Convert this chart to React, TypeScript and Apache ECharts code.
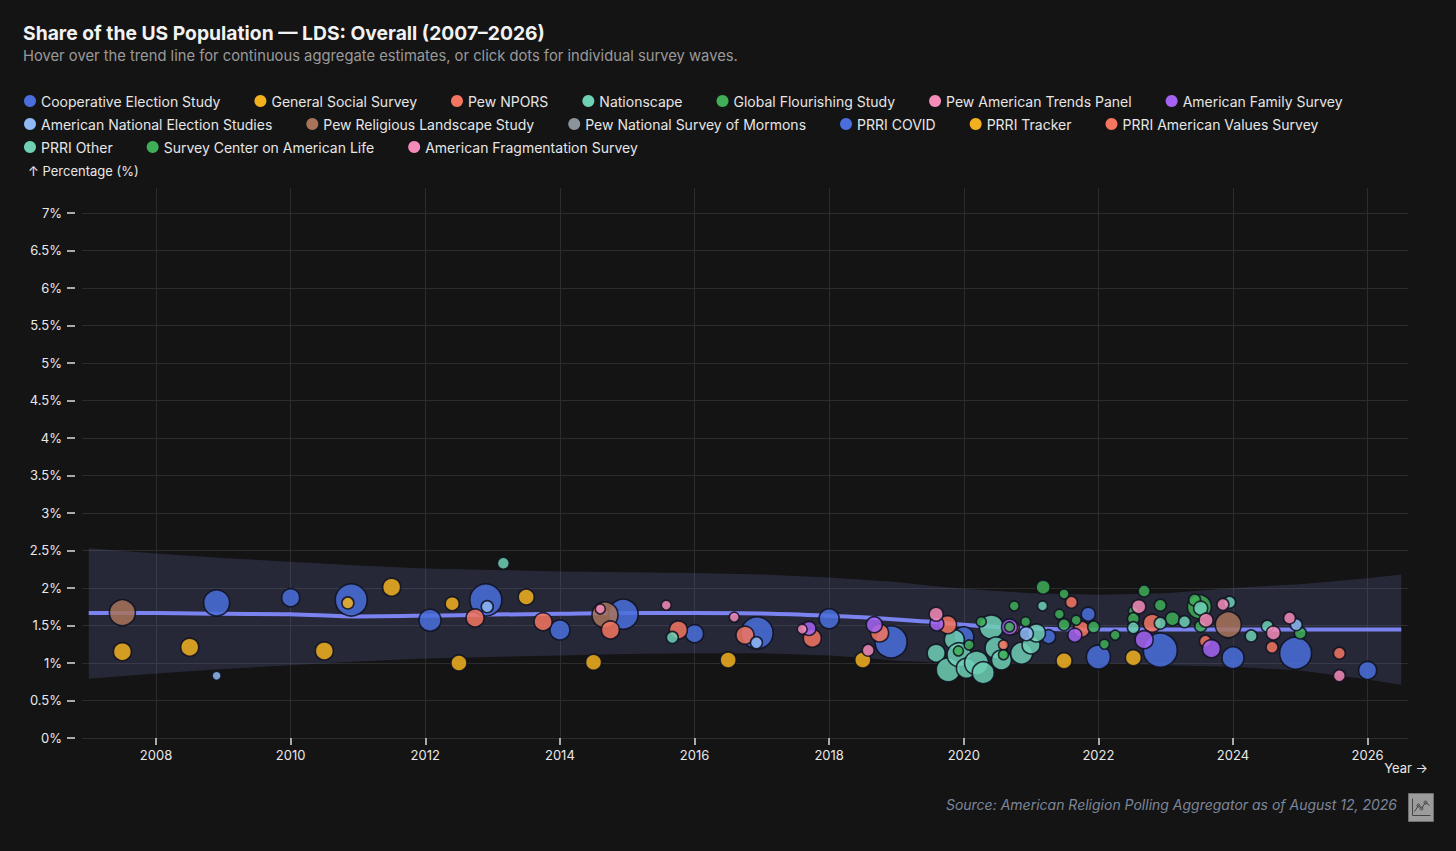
import React, { useEffect, useRef } from "react";
import * as echarts from "echarts";

// trend line + confidence band
const TREND_YEARS = [
  2007, 2008, 2009, 2010, 2011, 2012, 2013, 2014, 2015, 2016, 2017, 2018,
  2018.5, 2019, 2019.5, 2020, 2020.5, 2021, 2022, 2023, 2024, 2025, 2026,
  2026.5,
];
const TREND = [
  1.665, 1.665, 1.655, 1.65, 1.62, 1.63, 1.645, 1.655, 1.665, 1.665, 1.66,
  1.63, 1.61, 1.58, 1.55, 1.51, 1.48, 1.46, 1.445, 1.445, 1.445, 1.445, 1.445,
  1.445,
];
const BAND_HIGH = [
  2.53, 2.46, 2.4, 2.35, 2.3, 2.26, 2.24, 2.22, 2.21, 2.2, 2.18, 2.14, 2.11,
  2.08, 2.03, 1.99, 1.96, 1.93, 1.91, 1.93, 2.0, 2.05, 2.13, 2.18,
];
const BAND_LOW = [
  0.79, 0.86, 0.92, 0.97, 1.02, 1.06, 1.08, 1.1, 1.12, 1.13, 1.13, 1.1, 1.07,
  1.03, 1.01, 1.0, 1.0, 1.0, 1.0, 0.97, 0.95, 0.9, 0.78, 0.71,
];

// survey waves: [year, share %, weight]
const CES = [
  [2008.9, 1.8, 26], [2010.0, 1.87, 18], [2010.9, 1.84, 32], [2012.07, 1.57, 22],
  [2012.9, 1.84, 32], [2014.0, 1.44, 20], [2014.94, 1.65, 30], [2016.0, 1.39, 18],
  [2016.93, 1.4, 32], [2018.0, 1.59, 20], [2018.92, 1.28, 32], [2020.0, 1.35, 20],
  [2022.0, 1.08, 24], [2022.92, 1.17, 34], [2024.0, 1.07, 22], [2024.93, 1.13, 32],
  [2026.0, 0.9, 18],
];
const GSS = [
  [2007.5, 1.15, 18], [2008.5, 1.21, 18], [2010.5, 1.16, 18], [2012.5, 1.0, 16],
  [2014.5, 1.01, 16], [2016.5, 1.04, 16], [2018.5, 1.04, 16], [2021.49, 1.03, 16],
  [2022.52, 1.07, 16],
];
const PEW_NPORS = [
  [2021.6, 1.81, 12], [2021.75, 1.45, 16], [2022.8, 1.53, 18], [2023.59, 1.29, 12],
  [2024.58, 1.21, 12], [2025.58, 1.13, 12],
];
const NATIONSCAPE = [
  [2019.59, 1.13, 18], [2019.77, 0.91, 24], [2019.86, 1.31, 20], [2019.93, 1.11, 24],
  [2020.04, 0.93, 20], [2020.19, 1.0, 24], [2020.29, 0.87, 22], [2020.41, 1.48, 24],
  [2020.48, 1.2, 22], [2020.56, 1.04, 20], [2020.86, 1.13, 22], [2021.0, 1.24, 18],
  [2021.08, 1.4, 18],
];
const GFS = [[2023.5, 1.75, 24]];
const PEW_ATP = [
  [2014.6, 1.72, 10], [2015.58, 1.77, 10], [2016.59, 1.61, 10], [2017.6, 1.45, 10],
  [2018.58, 1.17, 12], [2019.59, 1.65, 14], [2022.6, 1.75, 14], [2023.6, 1.57, 14],
  [2023.85, 1.78, 12],
];
const AFS = [
  [2017.7, 1.46, 14], [2018.67, 1.51, 16], [2019.6, 1.52, 14], [2020.68, 1.48, 16],
  [2021.65, 1.37, 14], [2022.68, 1.31, 18], [2023.68, 1.19, 18],
];
const ANES = [
  [2008.9, 0.83, 9], [2012.92, 1.75, 12], [2016.92, 1.27, 12], [2020.93, 1.39, 14],
  [2024.94, 1.51, 12],
];
const PEW_RLS = [[2007.5, 1.67, 26], [2014.67, 1.64, 26], [2023.93, 1.51, 26]];
const PEW_NSM: number[][] = [];
const PRRI_COVID = [[2021.26, 1.35, 14], [2021.85, 1.65, 14]];
const PRRI_TRACKER = [
  [2010.85, 1.8, 12], [2011.5, 2.01, 18], [2012.4, 1.79, 14], [2013.5, 1.88, 16],
];
const PRRI_AVS = [
  [2012.74, 1.6, 18], [2013.75, 1.55, 18], [2014.75, 1.44, 18], [2015.76, 1.44, 18],
  [2016.75, 1.37, 18], [2017.75, 1.33, 18], [2018.75, 1.4, 18], [2019.76, 1.51, 18],
  [2020.59, 1.24, 10], [2020.72, 1.47, 14],
];
const PRRI_OTHER = [
  [2013.16, 2.33, 12], [2015.67, 1.34, 12], [2021.17, 1.76, 10], [2022.52, 1.47, 12],
  [2022.92, 1.53, 12], [2023.28, 1.55, 12], [2023.52, 1.73, 14], [2023.95, 1.81, 12],
  [2024.27, 1.36, 12], [2024.51, 1.49, 12],
];
const SCAL = [
  [2019.92, 1.16, 10], [2020.08, 1.24, 10], [2020.26, 1.55, 10], [2020.59, 1.11, 10],
  [2020.68, 1.48, 10], [2020.75, 1.76, 10], [2020.92, 1.55, 10], [2021.18, 2.01, 14],
  [2021.42, 1.65, 10], [2021.49, 1.92, 10], [2021.49, 1.51, 12], [2021.67, 1.57, 10],
  [2021.93, 1.48, 12], [2022.09, 1.25, 10], [2022.25, 1.37, 10], [2022.52, 1.69, 10],
  [2022.52, 1.59, 12], [2022.68, 1.96, 12], [2022.92, 1.77, 12], [2023.1, 1.59, 14],
  [2023.43, 1.84, 12], [2023.52, 1.49, 12], [2025.0, 1.4, 12],
];
const AM_FRAG = [[2024.6, 1.4, 14], [2024.84, 1.6, 12], [2025.58, 0.83, 12]];

const X_TICKS = [2008, 2010, 2012, 2014, 2016, 2018, 2020, 2022, 2024, 2026];
const Y_TICKS = [0, 0.5, 1, 1.5, 2, 2.5, 3, 3.5, 4, 4.5, 5, 5.5, 6, 6.5, 7];

const SURVEYS: { name: string; color: string; data: number[][] }[] = [
  { name: "Cooperative Election Study", color: "#4a6fdc", data: CES },
  { name: "PRRI COVID", color: "#4a6fdc", data: PRRI_COVID },
  { name: "Pew Religious Landscape Study", color: "#a8735a", data: PEW_RLS },
  { name: "Nationscape", color: "#6fd0b5", data: NATIONSCAPE },
  { name: "General Social Survey", color: "#f2b01e", data: GSS },
  { name: "PRRI Tracker", color: "#f2b01e", data: PRRI_TRACKER },
  { name: "PRRI American Values Survey", color: "#f47560", data: PRRI_AVS },
  { name: "Pew NPORS", color: "#f47560", data: PEW_NPORS },
  { name: "American Family Survey", color: "#a463f2", data: AFS },
  { name: "Global Flourishing Study", color: "#3fae57", data: GFS },
  { name: "Survey Center on American Life", color: "#3fae57", data: SCAL },
  { name: "PRRI Other", color: "#6fd0b5", data: PRRI_OTHER },
  { name: "American National Election Studies", color: "#8fb8f5", data: ANES },
  { name: "Pew American Trends Panel", color: "#f58bb8", data: PEW_ATP },
  { name: "American Fragmentation Survey", color: "#f58bb8", data: AM_FRAG },
  { name: "Pew National Survey of Mormons", color: "#8d939c", data: PEW_NSM },
];

const LEGEND_ROWS = [
  [
    "Cooperative Election Study",
    "General Social Survey",
    "Pew NPORS",
    "Nationscape",
    "Global Flourishing Study",
    "Pew American Trends Panel",
    "American Family Survey",
  ],
  [
    "American National Election Studies",
    "Pew Religious Landscape Study",
    "Pew National Survey of Mormons",
    "PRRI COVID",
    "PRRI Tracker",
    "PRRI American Values Survey",
  ],
  ["PRRI Other", "Survey Center on American Life", "American Fragmentation Survey"],
];

const FONT = "Inter, 'Noto Sans', sans-serif";

const App: React.FC = () => {
  const chartRef = useRef<HTMLDivElement | null>(null);

  useEffect(() => {
    if (!chartRef.current) return;
    const chart = echarts.init(chartRef.current, undefined, { renderer: "svg" });

    const bandRows = TREND_YEARS.map((y, i) => [y, BAND_LOW[i], BAND_HIGH[i]]);
    const trend = TREND_YEARS.map((y, i) => [y, TREND[i]]);

    const options: any = {
      animation: false,
      backgroundColor: "#141414",
      textStyle: { fontFamily: FONT },
      title: {
        text: "Share of the US Population \u2014 LDS: Overall (2007\u20132026)",
        subtext:
          "Hover over the trend line for continuous aggregate estimates, or click dots for individual survey waves.",
        left: 18,
        top: 18,
        itemGap: 6,
        textStyle: { color: "#f2f2f2", fontSize: 19.3, fontWeight: "bold", fontFamily: FONT },
        subtextStyle: { color: "#9a9a9a", fontSize: 14.75, fontFamily: FONT },
      },
      legend: LEGEND_ROWS.map((row, i) => ({
        data: row,
        left: 24,
        top: 94 + i * 23,
        padding: 0,
        icon: "circle",
        itemWidth: 12,
        itemHeight: 12,
        itemGap: 34,
        selectedMode: false,
        itemStyle: { opacity: 1, borderWidth: 0 },
        textStyle: { color: "#e6e6e6", fontSize: 14, fontFamily: FONT },
      })),
      grid: { left: 82, right: 48, top: 188, bottom: 113 },
      xAxis: {
        type: "value",
        min: 2006.9,
        max: 2026.6,
        axisLine: { show: false },
        axisTick: {
          show: true,
          length: 7,
          customValues: X_TICKS,
          lineStyle: { color: "#dddddd", width: 1.5 },
        },
        axisLabel: {
          customValues: X_TICKS,
          color: "#e8e8e8",
          fontSize: 13,
          margin: 10,
          fontFamily: FONT,
          formatter: (v: number) => String(v),
        },
        splitLine: { show: true, lineStyle: { color: "#2c2c2c", width: 1 } },
      },
      yAxis: {
        type: "value",
        min: 0,
        max: 7.33,
        offset: 7,
        axisLine: { show: false },
        axisTick: {
          show: true,
          length: 8,
          customValues: Y_TICKS,
          lineStyle: { color: "#dddddd", width: 1.5 },
        },
        axisLabel: {
          customValues: Y_TICKS,
          color: "#e8e8e8",
          fontSize: 13,
          margin: 13,
          fontFamily: FONT,
          formatter: (v: number) => `${v}%`,
        },
        splitLine: { show: true, lineStyle: { color: "#2c2c2c", width: 1 } },
      },
      series: [
        {
          name: "band",
          type: "custom",
          data: bandRows,
          encode: { x: 0, y: [1, 2] },
          silent: true,
          z: 1,
          renderItem: (params: any, api: any) => {
            if (params.dataIndex !== 0) return null;
            const upper = bandRows.map((r) => api.coord([r[0], r[2]]));
            const lower = bandRows.map((r) => api.coord([r[0], r[1]])).reverse();
            return {
              type: "polygon",
              shape: { points: upper.concat(lower) },
              style: { fill: "rgba(110,120,200,0.2)" },
            };
          },
        },
        {
          name: "trend",
          type: "line",
          data: trend,
          smooth: 0.3,
          symbol: "none",
          lineStyle: { color: "#7b83f0", width: 4 },
          z: 2,
        },
        ...SURVEYS.map((s) => ({
          name: s.name,
          type: "scatter",
          data: s.data,
          symbolSize: (v: number[]) => v[2],
          itemStyle: {
            color: s.color,
            opacity: 0.85,
            borderColor: "#0e1020",
            borderWidth: 1.6,
          },
          emphasis: { disabled: true },
          z: 3,
        })),
      ],
      graphic: [
        {
          type: "text",
          left: 28,
          top: 164,
          style: { text: "\u2191 Percentage (%)", fill: "#e8e8e8", fontSize: 13, fontFamily: FONT },
        },
        {
          type: "text",
          right: 28,
          top: 761,
          style: { text: "Year \u2192", fill: "#e8e8e8", fontSize: 13, fontFamily: FONT },
        },
        {
          type: "text",
          right: 59,
          top: 797,
          style: {
            text: "Source: American Religion Polling Aggregator as of August 12, 2026",
            fill: "#7d8699",
            fontSize: 14,
            fontStyle: "italic",
            fontFamily: FONT,
          },
        },
        {
          type: "group",
          left: 1408,
          top: 793,
          children: [
            { type: "rect", shape: { x: 0, y: 0, width: 25, height: 28 }, style: { fill: "#9c9c9c", stroke: "#6f6f6f", lineWidth: 1 } },
            { type: "polyline", shape: { points: [[4, 5], [4, 22], [22, 22]] }, style: { stroke: "#444", lineWidth: 1, fill: "none" } },
            { type: "polyline", shape: { points: [[6, 18], [10, 12], [13, 15], [17, 9], [21, 12]] }, style: { stroke: "#444", lineWidth: 1, fill: "none" } },
            { type: "circle", shape: { cx: 10, cy: 12, r: 1.5 }, style: { fill: "none", stroke: "#444" } },
            { type: "circle", shape: { cx: 13, cy: 15, r: 1.5 }, style: { fill: "none", stroke: "#444" } },
            { type: "circle", shape: { cx: 17, cy: 9, r: 1.5 }, style: { fill: "none", stroke: "#444" } },
          ],
        },
      ],
    };

    chart.setOption(options);
    return () => chart.dispose();
  }, []);

  return (
    <div style={{ position: "fixed", left: 0, top: 0, width: 1456, height: 851, background: "#141414" }}>
      <div ref={chartRef} style={{ width: 1456, height: 851 }} />
    </div>
  );
};

export default App;
